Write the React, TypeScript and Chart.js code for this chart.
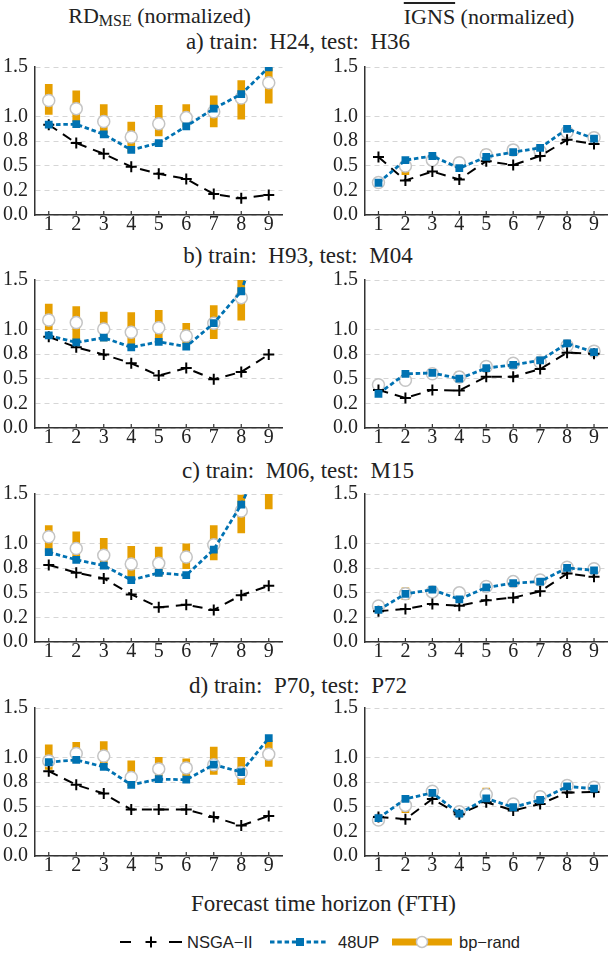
import React, { useEffect, useRef } from "react";
import { Chart, registerables } from "chart.js";
Chart.register(...registerables);

// ---------- data ----------
const FTH = ["1", "2", "3", "4", "5", "6", "7", "8", "9"];
const Y_TICKS = [0, 0.25, 0.5, 0.75, 1.0, 1.5];
const Y_TICK_LABELS = ["0.0", "0.2", "0.5", "0.8", "1.0", "1.5"];

// a) train: H24, test: H36
const A_RD_NSGA = [0.915, 0.729, 0.62, 0.49, 0.418, 0.366, 0.212, 0.17, 0.203];
const A_RD_48UP = [0.915, 0.92, 0.817, 0.66, 0.729, 0.899, 1.078, 1.225, 1.497];
const A_RD_BP_MED = [1.16, 1.078, 0.948, 0.791, 0.925, 0.987, 1.046, 1.186, 1.34];
const A_RD_BP_LO = [1.02, 0.948, 0.833, 0.637, 0.801, 0.899, 0.892, 0.971, 1.134];
const A_RD_BP_HI = [1.324, 1.258, 1.118, 0.941, 1.111, 1.118, 1.209, 1.363, 1.487];

const A_IG_NSGA = [0.588, 0.35, 0.441, 0.36, 0.546, 0.507, 0.598, 0.762, 0.719];
const A_IG_48UP = [0.327, 0.556, 0.598, 0.474, 0.588, 0.637, 0.68, 0.873, 0.775];
const A_IG_BP_MED = [0.33, 0.497, 0.556, 0.53, 0.611, 0.66, 0.647, 0.84, 0.784];
const A_IG_BP_LO = [0.32, 0.41, 0.545, 0.515, 0.55, 0.64, 0.635, 0.83, 0.775];
const A_IG_BP_HI = [0.34, 0.51, 0.565, 0.545, 0.665, 0.69, 0.66, 0.85, 0.795];

// b) train: H93, test: M04
const B_RD_NSGA = [0.925, 0.818, 0.744, 0.656, 0.532, 0.607, 0.494, 0.568, 0.744];
const B_RD_48UP = [0.938, 0.867, 0.916, 0.818, 0.873, 0.825, 1.062, 1.386, 2.2];
const B_RD_BP_MED = [1.094, 1.068, 1.003, 0.971, 1.016, 0.932, 1.062, 1.321, 2.0];
const B_RD_BP_LO = [0.997, 0.867, 0.883, 0.851, 0.867, 0.851, 0.906, 1.094, 1.7];
const B_RD_BP_HI = [1.256, 1.23, 1.175, 1.169, 1.192, 1.062, 1.24, 1.6, 2.4];

const B_IG_NSGA = [0.386, 0.305, 0.386, 0.38, 0.519, 0.519, 0.597, 0.763, 0.753];
const B_IG_48UP = [0.347, 0.549, 0.558, 0.5, 0.607, 0.64, 0.685, 0.857, 0.769];
const B_IG_BP_MED = [0.438, 0.484, 0.549, 0.516, 0.623, 0.656, 0.666, 0.834, 0.779];
const B_IG_BP_LO = [0.425, 0.46, 0.54, 0.51, 0.6, 0.645, 0.655, 0.825, 0.77];
const B_IG_BP_HI = [0.47, 0.51, 0.575, 0.57, 0.67, 0.69, 0.68, 0.845, 0.79];

// c) train: M06, test: M15
const C_RD_NSGA = [0.781, 0.703, 0.644, 0.482, 0.351, 0.377, 0.325, 0.475, 0.569];
const C_RD_48UP = [0.911, 0.833, 0.775, 0.628, 0.7, 0.677, 0.937, 1.393, 2.0];
const C_RD_BP_MED = [1.067, 0.947, 0.879, 0.791, 0.797, 0.862, 0.986, 1.328, 1.65];
const C_RD_BP_LO = [0.911, 0.833, 0.791, 0.644, 0.67, 0.742, 0.833, 1.106, 1.35];
const C_RD_BP_HI = [1.181, 1.116, 1.051, 0.97, 0.963, 0.996, 1.181, 1.49, 1.95];

const C_IG_NSGA = [0.312, 0.335, 0.384, 0.368, 0.423, 0.449, 0.514, 0.693, 0.661];
const C_IG_48UP = [0.325, 0.488, 0.53, 0.433, 0.553, 0.596, 0.612, 0.752, 0.726];
const C_IG_BP_MED = [0.364, 0.488, 0.508, 0.498, 0.563, 0.612, 0.628, 0.758, 0.742];
const C_IG_BP_LO = [0.355, 0.43, 0.5, 0.49, 0.55, 0.595, 0.61, 0.75, 0.735];
const C_IG_BP_HI = [0.375, 0.55, 0.52, 0.51, 0.575, 0.64, 0.655, 0.77, 0.75];

// d) train: P70, test: P72
const D_RD_NSGA = [0.86, 0.721, 0.633, 0.471, 0.471, 0.471, 0.396, 0.308, 0.406];
const D_RD_48UP = [0.951, 0.974, 0.903, 0.721, 0.779, 0.773, 0.925, 0.851, 1.195];
const D_RD_BP_MED = [0.964, 1.039, 1.013, 0.795, 0.883, 0.893, 0.925, 0.844, 1.032];
const D_RD_BP_LO = [0.877, 0.948, 0.925, 0.714, 0.812, 0.812, 0.828, 0.724, 0.909];
const D_RD_BP_HI = [1.127, 1.153, 1.159, 0.964, 1.0, 0.984, 1.104, 1.0, 1.169];

const D_IG_NSGA = [0.396, 0.373, 0.578, 0.422, 0.545, 0.461, 0.526, 0.643, 0.649];
const D_IG_48UP = [0.383, 0.578, 0.64, 0.429, 0.584, 0.494, 0.568, 0.705, 0.682];
const D_IG_BP_MED = [0.364, 0.513, 0.656, 0.448, 0.623, 0.526, 0.601, 0.714, 0.698];
const D_IG_BP_LO = [0.355, 0.438, 0.645, 0.44, 0.584, 0.515, 0.59, 0.705, 0.69];
const D_IG_BP_HI = [0.375, 0.536, 0.665, 0.46, 0.688, 0.535, 0.61, 0.725, 0.71];

const ROW_TITLES = [
  "a) train:\u00a0 H24, test:\u00a0 H36",
  "b) train:\u00a0 H93, test:\u00a0 M04",
  "c) train:\u00a0 M06, test:\u00a0 M15",
  "d) train:\u00a0 P70, test:\u00a0 P72",
];

// ---------- style ----------
const SERIF = "Liberation Serif";
const SANS = "'Liberation Sans', 'DejaVu Sans', sans-serif";
const C_BLUE = "#0072B2";
const C_ORANGE = "#E69F00";
const C_CIRCLE = "#c4c4c4";
const C_AXIS = "#333333";
const TICK_FONT = 20;
const TITLE_FONT = 22;
const ROW_TITLE_FONT = 23;

Chart.defaults.font.family = SERIF;

const YW = 35; // y-axis area width
const XH = 26; // x-axis area height
const TP = 14; // top padding
const PLOT_W = 249;
const PLOT_H = 153;
const COL_LEFT = [35, 365];
const ROW_TOP = [62, 275, 489, 703];

const inwardTicks = {
  id: "inwardTicks",
  afterDraw(chart: any) {
    const xs = chart.scales.x;
    const { ctx, chartArea } = chart;
    ctx.save();
    ctx.strokeStyle = C_AXIS;
    ctx.lineWidth = 1.2;
    xs.ticks.forEach((_t: any, i: number) => {
      const px = xs.getPixelForTick(i);
      ctx.beginPath();
      ctx.moveTo(px, chartArea.bottom);
      ctx.lineTo(px, chartArea.bottom - 4);
      ctx.stroke();
    });
    ctx.restore();
  },
};

type PanelProps = {
  nsga: number[];
  up48: number[];
  bpMed: number[];
  bpLo: number[];
  bpHi: number[];
  col: number;
  row: number;
};

function Panel({ nsga, up48, bpMed, bpLo, bpHi, col, row }: PanelProps) {
  const ref = useRef<HTMLCanvasElement>(null);
  const rightPad = col === 0 ? 6 : 1;
  const w = YW + PLOT_W + rightPad;
  const h = TP + PLOT_H + XH;
  useEffect(() => {
    if (!ref.current) return;
    const chart = new Chart(ref.current, {
      type: "bar",
      data: {
        labels: FTH,
        datasets: [
          {
            type: "line",
            label: "48UP",
            data: up48,
            borderColor: C_BLUE,
            borderWidth: 2.8,
            borderDash: [4.5, 2.8],
            pointStyle: "rect",
            pointRadius: 5.5,
            pointBackgroundColor: C_BLUE,
            pointBorderWidth: 0,
            order: 0,
          } as any,
          {
            type: "line",
            label: "NSGA-II",
            data: nsga,
            borderColor: "#000",
            borderWidth: 2,
            borderDash: [10, 7],
            pointStyle: "cross",
            pointRadius: 5.5,
            pointBorderColor: "#000",
            pointBorderWidth: 2,
            order: 1,
          } as any,
          {
            type: "line",
            label: "bp-rand median",
            data: bpMed,
            showLine: false,
            pointStyle: "circle",
            pointRadius: 6,
            pointBackgroundColor: "#ffffff",
            pointBorderColor: C_CIRCLE,
            pointBorderWidth: 1.5,
            order: 2,
          } as any,
          {
            type: "bar",
            label: "bp-rand",
            data: bpLo.map((lo, i) => [lo, bpHi[i]]),
            backgroundColor: C_ORANGE,
            borderWidth: 0,
            barThickness: 7,
            order: 3,
          } as any,
        ],
      },
      options: {
        animation: false,
        responsive: false,
        events: [],
        layout: { padding: { left: 0, right: rightPad, top: TP, bottom: 0 } },
        plugins: { legend: { display: false }, tooltip: { enabled: false } },
        scales: {
          x: {
            type: "category",
            offset: true,
            grid: { display: false, drawTicks: false },
            border: { display: true, color: C_AXIS, width: 1.5 },
            ticks: {
              color: "#222",
              padding: -2,
              font: { family: SERIF, size: TICK_FONT },
              maxRotation: 0,
              autoSkip: false,
            },
            afterFit: (s: any) => {
              s.height = XH;
            },
          },
          y: {
            type: "linear",
            min: 0,
            max: 1.5,
            afterBuildTicks: (s: any) => {
              s.ticks = Y_TICKS.map((v) => ({ value: v }));
            },
            grid: { color: "#d6d6d6", lineWidth: 1, drawTicks: false },
            border: { display: true, color: C_AXIS, width: 1.5, dash: [5, 4] },
            ticks: {
              color: "#222",
              padding: 7,
              font: { family: SERIF, size: TICK_FONT },
              callback: (v: any) => {
                const i = Y_TICKS.indexOf(Number(v));
                return i >= 0 ? Y_TICK_LABELS[i] : "";
              },
            },
            afterFit: (s: any) => {
              s.width = YW;
            },
          },
        },
      } as any,
      plugins: [inwardTicks],
    });
    return () => chart.destroy();
  }, []);
  return (
    <canvas
      ref={ref}
      width={w}
      height={h}
      style={{
        position: "absolute",
        left: COL_LEFT[col] - YW,
        top: ROW_TOP[row] - TP,
        width: w,
        height: h,
      }}
    />
  );
}

const textStyle = (x: number, y: number, size: number): React.CSSProperties => ({
  position: "absolute",
  left: x,
  top: y,
  transform: "translate(-50%, -50%)",
  fontFamily: SERIF,
  fontSize: size,
  color: "#222",
  whiteSpace: "nowrap",
  lineHeight: 1,
});

function Legend() {
  const cy = 15;
  return (
    <svg
      width={615}
      height={30}
      style={{ position: "absolute", left: 0, top: 927 }}
    >
      <line x1={120} y1={cy} x2={131} y2={cy} stroke="#000" strokeWidth={2} />
      <line x1={169} y1={cy} x2={182} y2={cy} stroke="#000" strokeWidth={2} />
      <line x1={145.5} y1={cy} x2={156.5} y2={cy} stroke="#000" strokeWidth={2} />
      <line x1={151} y1={cy - 5.5} x2={151} y2={cy + 5.5} stroke="#000" strokeWidth={2} />
      <text x={187} y={cy} dominantBaseline="central" fontFamily={SANS} fontSize={16.5} fill="#222">
        NSGA−II
      </text>
      <line
        x1={270}
        y1={cy}
        x2={327}
        y2={cy}
        stroke={C_BLUE}
        strokeWidth={2.8}
        strokeDasharray="4.5 2.8"
      />
      <rect x={296} y={cy - 4} width={8} height={8} fill={C_BLUE} />
      <text x={338} y={cy} dominantBaseline="central" fontFamily={SANS} fontSize={16.5} fill="#222">
        48UP
      </text>
      <line x1={392} y1={cy} x2={452} y2={cy} stroke={C_ORANGE} strokeWidth={7} />
      <circle cx={422} cy={cy} r={5.5} fill="#fff" stroke={C_CIRCLE} strokeWidth={1.5} />
      <text x={459} y={cy} dominantBaseline="central" fontFamily={SANS} fontSize={16.5} fill="#222">
        bp−rand
      </text>
    </svg>
  );
}

export default function App() {
  const panels = [
    [A_RD_NSGA, A_RD_48UP, A_RD_BP_MED, A_RD_BP_LO, A_RD_BP_HI],
    [A_IG_NSGA, A_IG_48UP, A_IG_BP_MED, A_IG_BP_LO, A_IG_BP_HI],
    [B_RD_NSGA, B_RD_48UP, B_RD_BP_MED, B_RD_BP_LO, B_RD_BP_HI],
    [B_IG_NSGA, B_IG_48UP, B_IG_BP_MED, B_IG_BP_LO, B_IG_BP_HI],
    [C_RD_NSGA, C_RD_48UP, C_RD_BP_MED, C_RD_BP_LO, C_RD_BP_HI],
    [C_IG_NSGA, C_IG_48UP, C_IG_BP_MED, C_IG_BP_LO, C_IG_BP_HI],
    [D_RD_NSGA, D_RD_48UP, D_RD_BP_MED, D_RD_BP_LO, D_RD_BP_HI],
    [D_IG_NSGA, D_IG_48UP, D_IG_BP_MED, D_IG_BP_LO, D_IG_BP_HI],
  ];
  const rowTitleY = [41, 255, 470, 685];
  return (
    <div
      style={{
        position: "absolute",
        left: 0,
        top: 0,
        width: 615,
        height: 956,
        overflow: "hidden",
        background: "#fff",
      }}
    >
      <div style={textStyle(159.5, 17, TITLE_FONT)}>
        RD<sub style={{ fontSize: 16, verticalAlign: "-3px" }}>MSE</sub> (normalized)
      </div>
      <div style={textStyle(489, 17, TITLE_FONT)}>
        <span style={{ textDecoration: "overline" }}>IGNS</span> (normalized)
      </div>
      {ROW_TITLES.map((t, i) => (
        <div key={t} style={textStyle(298, rowTitleY[i], ROW_TITLE_FONT)}>
          {t}
        </div>
      ))}
      {panels.map((p, i) => (
        <Panel
          key={i}
          nsga={p[0]}
          up48={p[1]}
          bpMed={p[2]}
          bpLo={p[3]}
          bpHi={p[4]}
          col={i % 2}
          row={Math.floor(i / 2)}
        />
      ))}
      <div style={textStyle(323.5, 903, 23)}>Forecast time horizon (FTH)</div>
      <Legend />
    </div>
  );
}
